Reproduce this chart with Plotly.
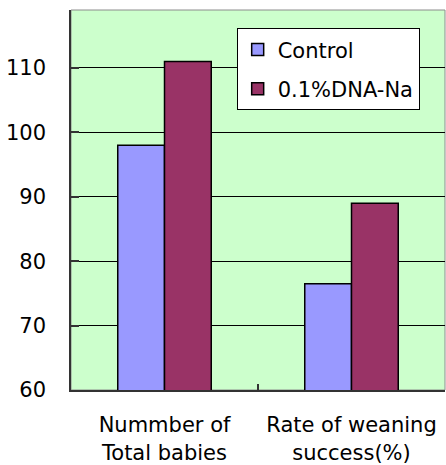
import plotly.graph_objects as go

# Chart data
categories = ["Nummber of<br>Total babies", "Rate of weaning<br>success(%)"]
series_names = ["Control", "0.1%DNA-Na"]
control_values = [98.0, 76.5]
dna_values = [111.0, 89.0]
y_ticks = [60, 70, 80, 90, 100, 110]

FONT = dict(family="DejaVu Sans, Arial, sans-serif", size=21, color="black")

fig = go.Figure()
fig.add_trace(go.Bar(
    x=categories, y=control_values, name=series_names[0], legendgroup="a",
    marker=dict(color="#9999FF", line=dict(color="black", width=1.5)),
))
fig.add_trace(go.Bar(
    x=categories, y=dna_values, name=series_names[1], legendgroup="b",
    marker=dict(color="#993366", line=dict(color="black", width=1.5)),
))

# grey frame around the plot area
fig.add_shape(type="rect", xref="paper", yref="paper", x0=0, x1=1, y0=0, y1=1,
              line=dict(color="#8c8c8c", width=1), layer="below")

fig.update_layout(
    width=446, height=465,
    margin=dict(l=71, r=1, t=10, b=75),
    paper_bgcolor="white",
    plot_bgcolor="#CCFFCC",
    font=FONT,
    barmode="group",
    bargap=0.5,
    bargroupgap=0,
    showlegend=True,
    legend=dict(
        x=0.443, y=0.952, xanchor="left", yanchor="top",
        bgcolor="white", bordercolor="black", borderwidth=1,
        font=FONT, tracegroupgap=9, traceorder="grouped",
        itemwidth=30,
    ),
    xaxis=dict(
        showline=True, linecolor="#333333", linewidth=2,
        ticks="inside", ticklen=6, tickcolor="#333333", tickwidth=1.5,
        tickson="boundaries", showgrid=False,
        tickfont=FONT, ticklabelstandoff=15,
    ),
    yaxis=dict(
        range=[60, 119], tickvals=y_ticks,
        showline=True, linecolor="#333333", linewidth=1.5,
        ticks="inside", ticklen=8, tickcolor="#333333", tickwidth=1.5,
        showgrid=True, gridcolor="black", gridwidth=1,
        zeroline=False, tickfont=FONT, ticklabelstandoff=19,
    ),
)

fig.write_html("out.html")
